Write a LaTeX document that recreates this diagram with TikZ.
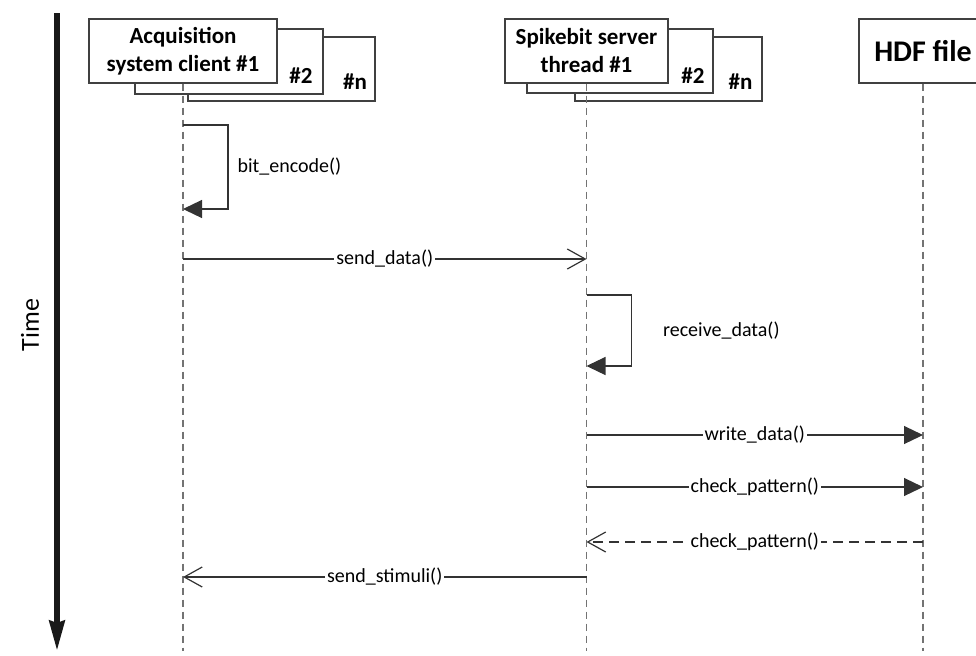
\documentclass[tikz,border=0pt]{standalone}
\usepackage{fontspec}
\setmainfont{Carlito}
\usetikzlibrary{arrows.meta}
\begin{document}
\begin{tikzpicture}[x=0.5pt, y=-0.5pt,
    box/.style={draw=black!75, line width=0.6pt, fill=white, inner sep=0pt},
    head/.style={font=\fontsize{11.5}{14}\selectfont\bfseries, align=center},
    lifeline/.style={draw=black!55, line width=0.7pt, dash pattern=on 3.5pt off 2.5pt},
    call/.style={draw=black!80, line width=0.6pt, -{Triangle[length=9.5pt,width=9pt]}},
    reply/.style={draw=black!80, line width=0.6pt, -{Straight Barb[length=9pt,width=10pt]}},
    lbl/.style={font=\fontsize{10}{12}\selectfont, fill=white, inner sep=1pt}]
    \clip (0,0) rectangle (976,655);

    % time axis
    \coordinate (t0) at (57,13);
    \coordinate (t1) at (57,651);
    \draw[line width=3pt, black!90, -{Stealth[length=15pt,width=7.5pt,inset=1pt]}] (t0) -- (t1);
    \node[rotate=90, font=\fontsize{13}{15}\selectfont] (time) at (30,325) {Time};

    % client stack
    \node[box, minimum width=93.5pt, minimum height=32pt] (c3) at (281.5,69) {};
    \node[box, minimum width=94pt, minimum height=32.5pt] (c2) at (229,61.5) {};
    \node[box, head, minimum width=94pt, minimum height=32pt] (c1) at (183,51) {Acquisition\\system client \#1};
    \node[head] (c2lbl) at (301,76) {\#2};
    \node[head] (c3lbl) at (355,82) {\#n};

    % server stack
    \node[box, minimum width=93.5pt, minimum height=32pt] (s3) at (668.5,69) {};
    \node[box, minimum width=93pt, minimum height=32pt] (s2) at (620,61) {};
    \node[box, head, minimum width=81.5pt, minimum height=32pt] (s1) at (586.5,51) {Spikebit server\\thread \#1};
    \node[head] (s2lbl) at (693,76) {\#2};
    \node[head] (s3lbl) at (740.5,82) {\#n};

    % file
    \node[box, font=\fontsize{15}{18}\selectfont\bfseries, minimum width=64pt, minimum height=32pt] (hdf) at (923,51) {HDF file};

    % lifelines
    \draw[lifeline] (c1.south) -- (c1.south |- t1);
    \draw[lifeline] (s1.south) -- (s1.south |- t1);
    \draw[lifeline] (hdf.south) -- (hdf.south |- t1);

    % messages
    \draw[call] (c1.south |- 0,125) -- ++(45,0) -- node[right, lbl, xshift=3.5pt] {bit\_encode()} ++(0,84) -- (c1.south |- 0,209);
    \draw[reply] (c1.south |- 0,259) -- node[lbl] {send\_data()} (s1.south |- 0,259);
    \draw[call] (s1.south |- 0,295) -- ++(45,0) -- node[right, lbl, xshift=14.5pt] {receive\_data()} ++(0,71) -- (s1.south |- 0,366);
    \draw[call] (s1.south |- 0,435) -- node[lbl] {write\_data()} (hdf.south |- 0,435);
    \draw[call] (s1.south |- 0,487) -- node[lbl] {check\_pattern()} (hdf.south |- 0,487);
    \draw[reply, dash pattern=on 5pt off 3pt] (hdf.south |- 0,542) -- node[lbl] {check\_pattern()} (s1.south |- 0,542);
    \draw[reply] (s1.south |- 0,577) -- node[lbl] {send\_stimuli()} (c1.south |- 0,577);
\end{tikzpicture}
\end{document}
